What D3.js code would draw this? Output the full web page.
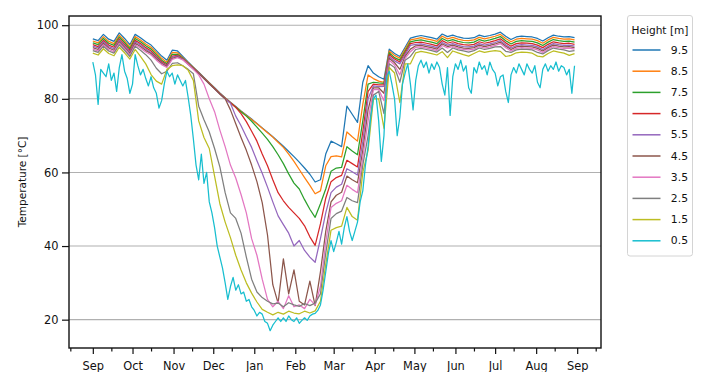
<!DOCTYPE html>
<html>
<head>
<meta charset="utf-8">
<script src="https://cdn.jsdelivr.net/npm/d3@7"></script>
<style>
  body { margin: 0; background: #fff; }
  svg { display: block; font-family: "DejaVu Sans", sans-serif; }
</style>
</head>
<body>
<div id="chart"></div>
<script>
// samples start on 1 Sep 2019; most series every 4 days, the noisy 0.5 m one every 2 days
const startDate = Date.UTC(2019, 8, 1);

const heights = ["9.5", "8.5", "7.5", "6.5", "5.5", "4.5", "3.5", "2.5", "1.5", "0.5"];
const stepDays = [4, 4, 4, 4, 4, 4, 4, 4, 4, 2];
const yTicks = [20, 40, 60, 80, 100];

const s95 = [
  96.3, 95.8, 97.5, 96.2, 95.6, 97.9, 96.4, 94.7, 97.5, 96.6, 95.5, 94.6, 93.1, 91.6, 90.5, 93.2, 93.0,
  91.5, 90.0, 88.6, 87.2, 85.8, 84.4, 83.0, 81.6, 80.3, 79.1, 77.9, 76.7, 75.6, 74.5, 73.3, 72.1, 70.9, 69.7, 68.4, 67.1, 65.7, 64.3, 62.8, 61.2, 59.5, 57.4,
  58.0, 65.0, 68.5, 67.8, 67.0, 78.0, 75.8, 73.6, 84.5, 89.0, 87.0, 86.0, 85.3, 93.5, 92.3, 91.5, 94.0, 96.5, 96.9,
  97.2, 96.9, 96.6, 96.2, 97.6, 96.9, 97.3, 96.8, 96.5, 96.4, 96.6, 97.3, 96.9, 97.2, 97.6, 98.1, 97.0, 96.1, 96.8, 97.0, 96.9, 96.8, 96.4, 95.7, 96.6, 97.3, 97.0, 96.8, 96.9, 96.6
];
const s85 = [
  95.7, 95.2, 96.9, 95.6, 95.0, 97.3, 95.8, 94.1, 96.9, 96.0, 94.9, 94.0, 92.5, 91.0, 89.9, 92.6, 92.5,
  91.2, 89.8, 88.5, 87.1, 85.7, 84.3, 82.9, 81.5, 80.2, 79.0, 77.8, 76.6, 75.5, 74.4, 73.2, 72.0, 70.8, 69.6, 68.2, 66.8, 65.0, 63.0, 60.8, 58.6, 56.5, 54.2,
  55.0, 61.8, 64.3, 64.5, 64.2, 71.0, 69.7, 68.5, 78.5, 86.5, 85.5, 84.8, 84.5, 93.0, 91.8, 91.0, 93.5, 96.0, 96.3,
  96.6, 96.3, 96.0, 95.6, 97.0, 96.3, 96.7, 96.2, 95.9, 95.8, 96.0, 96.7, 96.3, 96.6, 97.0, 97.5, 96.4, 95.5, 96.2, 96.4, 96.3, 96.2, 95.8, 95.1, 96.0, 96.7, 96.4, 96.2, 96.3, 96.0
];
const s75 = [
  95.2, 94.7, 96.4, 95.1, 94.5, 96.8, 95.3, 93.6, 96.4, 95.5, 94.4, 93.5, 92.0, 90.5, 89.5, 92.1, 92.1,
  91.0, 89.7, 88.4, 87.0, 85.6, 84.2, 82.8, 81.4, 80.1, 78.9, 77.7, 76.5, 75.3, 73.9, 72.3, 70.7, 69.0, 67.0, 64.8, 62.4, 59.6, 57.1, 55.5, 52.6, 50.0, 47.8,
  51.5, 55.5, 60.3, 61.2, 61.4, 67.0, 65.8, 64.8, 74.0, 84.0, 84.5, 84.3, 84.2, 92.5, 91.2, 90.5, 93.0, 95.5, 95.8,
  96.0, 95.7, 95.4, 95.0, 96.4, 95.7, 96.1, 95.6, 95.3, 95.2, 95.4, 96.1, 95.7, 96.0, 96.4, 96.9, 95.8, 94.9, 95.6, 95.8, 95.7, 95.6, 95.2, 94.5, 95.4, 96.1, 95.8, 95.6, 95.7, 95.4
];
const s65 = [
  94.7, 94.2, 95.9, 94.6, 94.0, 96.3, 94.8, 93.1, 95.9, 95.0, 93.9, 93.0, 91.5, 90.1, 89.2, 91.6, 91.8,
  90.9, 89.6, 88.3, 87.0, 85.6, 84.2, 82.8, 81.4, 80.1, 78.9, 77.7, 76.0, 73.8, 71.2, 68.5, 65.0, 61.8, 58.0, 54.5, 52.3, 50.5, 49.0, 47.5, 45.5, 42.5, 40.2,
  46.0, 53.0, 57.5, 58.6, 59.2, 63.3, 62.4, 61.5, 71.0, 82.0, 84.0, 83.8, 83.8, 92.0, 90.8, 90.0, 92.5, 95.0, 95.3,
  95.4, 95.1, 94.8, 94.4, 95.8, 95.1, 95.5, 95.0, 94.7, 94.6, 94.8, 95.5, 95.1, 95.4, 95.8, 96.3, 95.2, 94.3, 95.0, 95.2, 95.1, 95.0, 94.6, 93.9, 94.8, 95.5, 95.2, 95.0, 95.1, 94.8
];
const s55 = [
  94.3, 93.8, 95.5, 94.2, 93.6, 95.9, 94.4, 92.7, 95.5, 94.6, 93.5, 92.6, 91.2, 89.8, 89.0, 91.3, 91.6,
  90.8, 89.5, 88.2, 86.9, 85.5, 84.1, 82.7, 81.3, 80.0, 78.8, 75.3, 72.7, 69.7, 66.8, 63.2, 59.8, 56.0, 52.0, 48.2, 45.8, 43.5, 40.0, 41.5, 38.8, 37.0, 35.6,
  42.0, 49.0, 54.5, 56.0, 56.8, 61.0, 60.2, 59.3, 68.5, 80.0, 83.5, 83.3, 83.4, 91.5, 90.3, 89.5, 92.0, 94.5, 94.8,
  94.9, 94.6, 94.3, 93.9, 95.3, 94.6, 95.0, 94.5, 94.2, 94.1, 94.3, 95.0, 94.6, 94.9, 95.3, 95.8, 94.7, 93.8, 94.5, 94.7, 94.6, 94.5, 94.1, 93.4, 94.3, 95.0, 94.7, 94.5, 94.6, 94.3
];
const s45 = [
  93.9, 93.4, 95.1, 93.8, 93.2, 95.5, 94.0, 92.3, 95.1, 94.2, 93.1, 92.3, 90.9, 89.6, 88.8, 91.0, 91.4,
  90.7, 89.4, 88.1, 86.9, 85.5, 84.1, 82.7, 81.3, 80.0, 77.0, 73.2, 69.5, 66.0, 62.0, 57.5, 51.8, 43.0, 29.5, 24.5, 36.5, 27.0, 33.5, 25.0, 24.0, 30.5, 23.8,
  33.0, 44.0, 52.0, 53.8, 54.6, 59.0, 58.0, 57.2, 66.0, 77.0, 83.0, 83.0, 81.5, 91.0, 89.8, 88.0, 91.5, 93.5, 94.4,
  94.5, 94.2, 93.9, 93.5, 94.9, 94.2, 94.6, 94.1, 93.8, 93.7, 93.9, 94.6, 94.2, 94.5, 94.9, 95.4, 94.3, 93.4, 94.1, 94.3, 94.2, 94.1, 93.7, 93.0, 93.9, 94.6, 94.3, 94.1, 94.2, 93.9
];
const s35 = [
  93.5, 93.0, 94.7, 93.4, 92.8, 95.1, 93.6, 91.9, 94.7, 93.8, 92.7, 91.9, 90.5, 89.3, 88.5, 90.7, 91.2,
  90.6, 89.3, 88.0, 86.5, 84.0, 80.0, 76.5, 71.5, 67.0, 62.0, 58.5, 54.0, 49.0, 42.0, 37.5, 31.0, 25.5, 23.5, 25.0, 23.0, 26.5, 23.5, 24.0, 23.0, 25.5, 24.0,
  29.0, 41.0, 50.5, 51.6, 52.3, 56.5, 55.4, 54.5, 64.0, 74.0, 82.5, 82.5, 79.5, 90.5, 89.2, 86.5, 91.0, 92.8, 94.0,
  94.1, 93.8, 93.5, 93.1, 94.5, 93.8, 94.2, 93.7, 93.4, 93.3, 93.5, 94.2, 93.8, 94.1, 94.5, 95.0, 93.9, 93.0, 93.7, 93.9, 93.8, 93.7, 93.3, 92.6, 93.5, 94.2, 93.9, 93.7, 93.8, 93.5
];
const s25 = [
  93.1, 92.6, 94.3, 93.0, 92.4, 94.7, 93.2, 91.5, 94.3, 93.2, 92.0, 90.5, 88.3, 86.8, 87.5, 89.6, 89.8,
  89.0, 88.0, 86.8, 78.0, 74.3, 71.0, 66.5, 61.5, 54.5, 49.0, 47.5, 43.5, 37.0, 31.0, 27.5, 26.0, 25.0, 24.3, 24.5, 23.5, 24.6, 24.0, 23.6, 24.4, 23.8, 24.5,
  27.0, 38.0, 47.5, 48.8, 49.5, 53.2, 52.3, 51.8, 62.0, 70.0, 81.0, 82.0, 76.0, 89.5, 88.5, 84.5, 90.5, 91.5, 93.4,
  93.7, 93.4, 93.1, 92.7, 93.8, 92.6, 93.8, 93.3, 93.0, 92.7, 93.1, 93.8, 93.4, 93.7, 94.1, 94.2, 92.9, 92.6, 93.3, 93.5, 93.4, 93.3, 92.6, 92.2, 93.1, 93.8, 93.5, 93.3, 92.9, 93.1
];
const s15 = [
  92.4, 91.9, 93.6, 92.3, 91.7, 94.0, 92.5, 90.8, 93.4, 91.5, 89.5, 86.6, 84.8, 84.0, 88.0, 89.0, 89.2,
  89.0, 87.8, 85.0, 74.0, 69.5, 66.5, 59.0, 51.5, 46.5, 42.3, 37.5, 33.5, 30.0, 27.2, 24.8, 22.8, 22.0, 21.3, 22.0, 21.5, 22.3, 21.8, 21.6, 22.3, 21.8, 22.4,
  25.0, 35.0, 44.3, 45.0, 45.4, 50.5, 48.0, 47.0, 60.0, 66.0, 80.0, 80.0, 72.0, 88.5, 87.0, 79.0, 89.5, 89.5, 92.5,
  92.9, 92.6, 92.3, 91.9, 92.8, 91.2, 93.0, 92.5, 92.0, 91.6, 92.3, 93.0, 92.6, 92.9, 93.1, 92.9, 91.5, 91.8, 92.5, 92.7, 92.6, 92.4, 91.6, 91.4, 92.3, 93.0, 92.7, 92.4, 91.8, 92.3
];
const s05 = [
  90.0, 86.5, 78.5, 88.0, 87.0, 86.0, 89.5, 85.0, 87.0, 82.0, 88.5, 92.0, 87.5, 85.5, 81.5, 84.0, 92.0, 89.0, 86.5, 88.0,
  85.5, 83.5, 86.0, 83.0, 81.5, 77.5, 79.5, 84.0, 87.5, 86.0, 87.0, 84.0, 86.5, 85.0, 83.5, 85.0, 80.5, 75.5, 69.0,
  62.0, 58.0, 65.0, 57.0, 60.0, 52.0, 49.0, 45.0, 40.0, 37.0, 34.0, 30.0, 25.5, 29.0, 31.5, 28.0, 29.5, 27.0, 27.5, 25.0,
  25.5, 23.5, 22.5, 21.0, 22.0, 21.5, 19.5, 19.0, 17.0, 18.5, 19.5, 20.5, 19.5, 20.5, 19.5, 21.0, 20.0, 19.5, 20.5, 19.0,
  19.8, 20.5, 19.8, 21.0, 21.5, 21.7, 22.5,
  24.0, 28.0, 33.0, 38.0, 41.5, 38.5, 41.0, 44.0, 40.5, 45.0, 48.0, 44.0, 41.5, 44.0, 46.5, 52.0, 55.0, 62.0, 67.0, 75.0,
  80.0, 81.0, 74.0, 63.0, 70.0, 86.0, 87.5, 84.0, 80.0, 70.0, 75.0, 84.0, 87.0, 89.5, 84.0, 77.0, 85.0, 89.0,
  90.5, 88.5, 90.0, 87.0, 89.5, 88.0, 90.0, 88.5, 84.0, 81.0, 88.5, 75.5, 86.0, 89.5, 88.0, 90.5, 87.5, 89.0, 83.0, 81.5,
  88.5, 87.0, 90.0, 88.0, 89.0, 86.5, 90.0, 88.0, 87.0, 83.5, 86.0, 86.5, 82.0, 79.0, 86.5, 88.5, 87.0, 89.5, 88.0, 86.5,
  89.5, 88.0, 87.0, 89.0, 84.5, 83.0, 88.0, 89.5, 87.5, 89.0, 88.0, 90.0, 87.5, 89.0, 88.5, 86.5, 88.0, 81.5, 89.0
];
const series = [s95, s85, s75, s65, s55, s45, s35, s25, s15, s05];

const width = 701, height = 372;
const plot = { left: 69, right: 601, top: 16, bottom: 348 };

const x = d3.scaleUtc()
    .domain([new Date(Date.UTC(2019, 7, 14)), new Date(Date.UTC(2020, 8, 19))])
    .range([plot.left, plot.right]);
const y = d3.scaleLinear()
    .domain([12.3, 102.5])
    .range([plot.bottom, plot.top]);
const color = d3.scaleOrdinal().domain(heights).range(d3.schemeCategory10);

const svg = d3.select("#chart").append("svg")
    .attr("width", width)
    .attr("height", height);

svg.append("defs").append("clipPath").attr("id", "clip")
  .append("rect")
    .attr("x", plot.left).attr("y", plot.top)
    .attr("width", plot.right - plot.left).attr("height", plot.bottom - plot.top);

// horizontal grid
svg.append("g").selectAll("line")
  .data(yTicks)
  .join("line")
    .attr("x1", plot.left).attr("x2", plot.right)
    .attr("y1", d => y(d)).attr("y2", d => y(d))
    .attr("stroke", "#b0b0b0")
    .attr("stroke-width", 1.1);

// lines, 9.5 m first so 0.5 m ends up on top
const lineData = series.map((values, k) => values.map((v, i) => ({
  date: d3.utcDay.offset(new Date(startDate), i * stepDays[k]),
  value: v
})));
const line = d3.line()
    .x(d => x(d.date))
    .y(d => y(d.value));

svg.append("g").attr("clip-path", "url(#clip)")
  .selectAll("path")
  .data(lineData)
  .join("path")
    .attr("d", line)
    .attr("fill", "none")
    .attr("stroke", (d, i) => color(heights[i]))
    .attr("stroke-width", 1.25)
    .attr("stroke-linejoin", "round");

// axes
const months = d3.utcMonth.range(new Date(Date.UTC(2019, 8, 1)), new Date(Date.UTC(2020, 8, 2)));
const mids = d3.utcMonth.range(new Date(Date.UTC(2019, 7, 1)), new Date(Date.UTC(2020, 8, 2)))
    .map(d => d3.utcDay.offset(d, 14));

svg.append("g")
    .attr("transform", `translate(0,${plot.bottom})`)
    .call(d3.axisBottom(x).tickValues(months).tickFormat(d3.utcFormat("%b")).tickSize(6).tickPadding(7.5));
svg.append("g")
    .attr("transform", `translate(0,${plot.bottom})`)
    .call(d3.axisBottom(x).tickValues(mids).tickFormat("").tickSize(3.5));
svg.append("g")
    .attr("transform", `translate(${plot.left},0)`)
    .call(d3.axisLeft(y).tickValues(yTicks).tickSize(7).tickPadding(3.5));

svg.selectAll(".domain").remove();
svg.selectAll(".tick line").attr("stroke", "#111").attr("stroke-width", 1.2);
svg.selectAll(".tick text")
    .attr("fill", "#111")
    .attr("font-family", "DejaVu Sans")
    .attr("font-size", 11.4);

// frame
svg.append("rect")
    .attr("x", plot.left).attr("y", plot.top)
    .attr("width", plot.right - plot.left).attr("height", plot.bottom - plot.top)
    .attr("fill", "none")
    .attr("stroke", "#111")
    .attr("stroke-width", 1.4);

svg.append("text")
    .attr("transform", `translate(22,${(plot.top + plot.bottom) / 2}) rotate(-90)`)
    .attr("text-anchor", "middle")
    .attr("dominant-baseline", "central")
    .attr("font-size", 10.5)
    .attr("fill", "#111")
    .text("Temperature [°C]");

// legend
const legend = svg.append("g");
legend.append("rect")
    .attr("x", 627.5).attr("y", 15.5)
    .attr("width", 65).attr("height", 240.5)
    .attr("rx", 2.5)
    .attr("fill", "#fff")
    .attr("stroke", "#d4d4d4")
    .attr("stroke-width", 1);
legend.append("text")
    .attr("x", 660).attr("y", 30)
    .attr("text-anchor", "middle")
    .attr("dominant-baseline", "central")
    .attr("font-size", 10.6)
    .attr("fill", "#111")
    .text("Height [m]");

const item = legend.selectAll(".item")
  .data(heights)
  .join("g")
    .attr("class", "item")
    .attr("transform", (d, i) => `translate(0,${50 + i * 21.2})`);
item.append("line")
    .attr("x1", 632.5).attr("x2", 660.5)
    .attr("stroke", d => color(d))
    .attr("stroke-width", 1.5);
item.append("text")
    .attr("x", 688)
    .attr("text-anchor", "end")
    .attr("dominant-baseline", "central")
    .attr("font-size", 10.8)
    .attr("fill", "#111")
    .text(d => d);
</script>
</body>
</html>
